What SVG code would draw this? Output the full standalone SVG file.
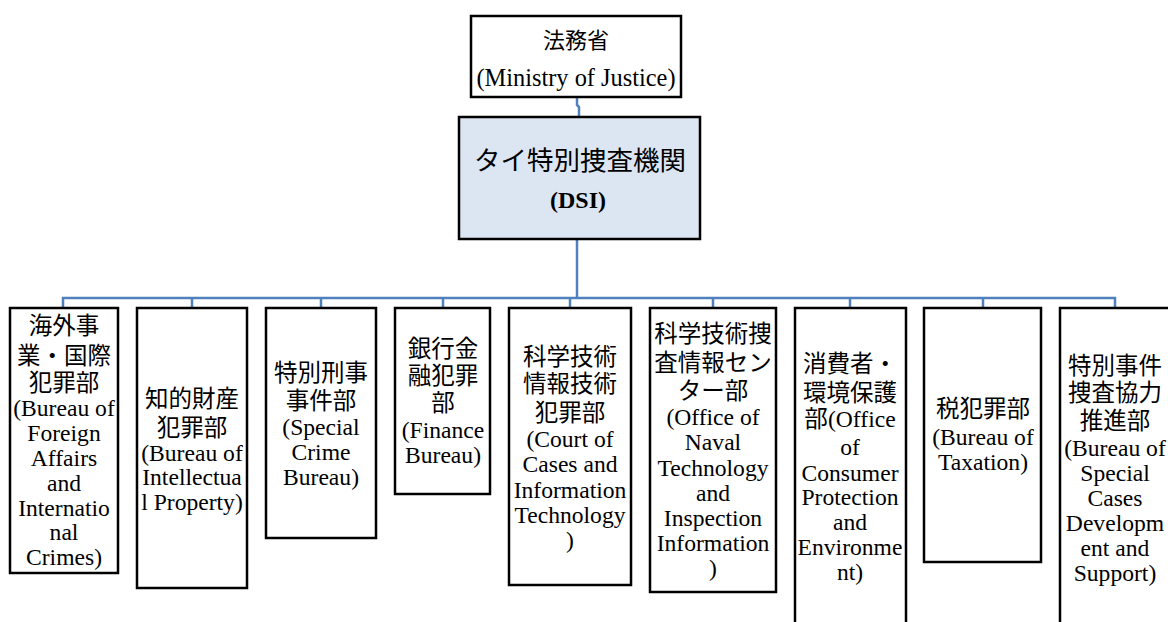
<svg xmlns="http://www.w3.org/2000/svg" width="1168" height="622" viewBox="0 0 1168 622">
<style>
.box{fill:#fff;stroke:#000;stroke-width:2.5}
.dsi{fill:#dce6f2;stroke:#000;stroke-width:2.5}
.con{fill:none;stroke:#4f81bd;stroke-width:2.5}
text{font-family:"Liberation Serif","Noto Sans CJK JP",serif;font-size:23.6px;fill:#000;text-anchor:middle}
.j{font-size:23.5px}
.t{font-size:22px}
</style>
<rect width="1168" height="622" fill="#fff"/>
<g id="connectors">
<path class="con" d="M577,97 V105 L579,107 V117"/>
<path class="con" d="M577,239 V298"/>
<path class="con" d="M63,308 V298 H1115 V308"/>
<path class="con" d="M192,298 V308 M321,298 V308 M443,298 V308 M570,298 V308 M713,298 V308 M850,298 V308 M983,298 V308"/>
</g>
<g id="ministry">
<rect class="box" x="471" y="16" width="210" height="81"/>
<text class="t" x="576" y="48">法務省</text>
<text x="576" y="86" style="font-size:24.4px">(Ministry of Justice)</text>
</g>
<g id="dsi">
<rect class="dsi" x="459" y="117" width="241" height="122"/>
<text x="580" y="170" style="font-size:26.5px">タイ特別捜査機関</text>
<text x="578" y="208" style="font-weight:bold;font-size:24px">(DSI)</text>
</g>
<g id="b1">
<rect class="box" x="10" y="308" width="108" height="265"/>
<text class="j" x="64" y="334">海外事</text>
<text class="j" x="64" y="364">業・国際</text>
<text class="j" x="64" y="391">犯罪部</text>
<text x="64" y="416">(Bureau of</text>
<text x="64" y="441">Foreign</text>
<text x="64" y="466">Affairs</text>
<text x="64" y="491">and</text>
<text x="64" y="516">Internatio</text>
<text x="64" y="540">nal</text>
<text x="64" y="565">Crimes)</text>
</g>
<g id="b2">
<rect class="box" x="137" y="308" width="110" height="280"/>
<text class="j" x="192" y="407">知的財産</text>
<text class="j" x="192" y="436">犯罪部</text>
<text x="192" y="461">(Bureau of</text>
<text x="192" y="485">Intellectua</text>
<text x="192" y="510">l Property)</text>
</g>
<g id="b3">
<rect class="box" x="266" y="308" width="110" height="230"/>
<text class="j" x="321" y="381">特別刑事</text>
<text class="j" x="321" y="409">事件部</text>
<text x="321" y="435">(Special</text>
<text x="321" y="460">Crime</text>
<text x="321" y="485">Bureau)</text>
</g>
<g id="b4">
<rect class="box" x="395" y="308" width="95" height="186"/>
<text class="j" x="443" y="357">銀行金</text>
<text class="j" x="443" y="384">融犯罪</text>
<text class="j" x="443" y="411">部</text>
<text x="443" y="438">(Finance</text>
<text x="443" y="463">Bureau)</text>
</g>
<g id="b5">
<rect class="box" x="509" y="308" width="122" height="277"/>
<text class="j" x="570" y="365">科学技術</text>
<text class="j" x="570" y="392">情報技術</text>
<text class="j" x="570" y="421">犯罪部</text>
<text x="570" y="447">(Court of</text>
<text x="570" y="472">Cases and</text>
<text x="570" y="498">Information</text>
<text x="570" y="523">Technology</text>
<text x="570" y="548">)</text>
</g>
<g id="b6">
<rect class="box" x="650" y="308" width="126" height="284"/>
<text class="j" x="713" y="342">科学技術捜</text>
<text class="j" x="713" y="371">査情報セン</text>
<text class="j" x="713" y="399">ター部</text>
<text x="713" y="425">(Office of</text>
<text x="713" y="450">Naval</text>
<text x="713" y="476">Technology</text>
<text x="713" y="501">and</text>
<text x="713" y="526">Inspection</text>
<text x="713" y="551">Information</text>
<text x="713" y="576">)</text>
</g>
<g id="b7">
<rect class="box" x="795" y="308" width="111" height="330"/>
<text class="j" x="850" y="372">消費者・</text>
<text class="j" x="850" y="401">環境保護</text>
<text x="850" y="427">部(Office</text>
<text x="850" y="455">of</text>
<text x="850" y="481">Consumer</text>
<text x="850" y="505">Protection</text>
<text x="850" y="530">and</text>
<text x="850" y="555">Environme</text>
<text x="850" y="580">nt)</text>
</g>
<g id="b8">
<rect class="box" x="924" y="308" width="117" height="254"/>
<text class="j" x="983" y="417">税犯罪部</text>
<text x="983" y="445">(Bureau of</text>
<text x="983" y="470">Taxation)</text>
</g>
<g id="b9">
<rect class="box" x="1060" y="308" width="120" height="330"/>
<text class="j" x="1115" y="374">特別事件</text>
<text class="j" x="1115" y="401">捜査協力</text>
<text class="j" x="1115" y="429">推進部</text>
<text x="1115" y="456">(Bureau of</text>
<text x="1115" y="481">Special</text>
<text x="1115" y="506">Cases</text>
<text x="1115" y="531">Developm</text>
<text x="1115" y="556">ent and</text>
<text x="1115" y="581">Support)</text>
</g>
</svg>
